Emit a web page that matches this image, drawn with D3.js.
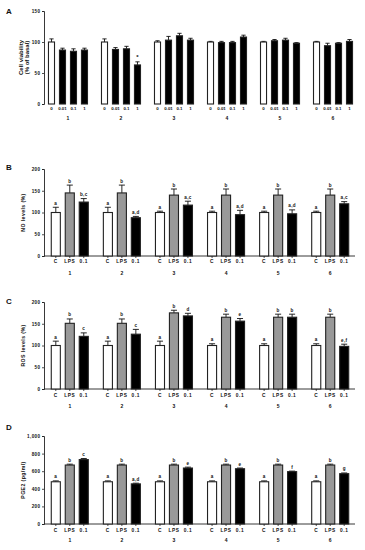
<!DOCTYPE html>
<html>
<head>
<meta charset="utf-8">
<script src="https://cdn.jsdelivr.net/npm/d3@7"></script>
<style>
  body { margin: 0; background: #fff; }
  text { font-family: "Liberation Sans", Arial, sans-serif; font-weight: bold; fill: #111; }
</style>
</head>
<body>
<svg id="chart" width="365" height="550"></svg>
<script>
// groups shared by all panels
const groups = ["1", "2", "3", "4", "5", "6"];

// panel A: cell viability
const doseCats = ["0", "0.01", "0.1", "1"];
const viabMean = [[100, 87, 85, 87], [100, 88, 89, 63], [100, 103, 110, 103], [100, 99, 99, 108], [100, 102, 103, 98], [100, 94, 98, 101]];
const viabErr = [[5, 3, 4, 3], [5, 3, 4, 5], [2, 6, 4, 3], [1, 2, 2, 3], [1, 2, 3, 1], [1, 4, 1, 3]];
const viabMarks = [["", "", "", ""], ["", "", "", "*"], ["", "", "", ""], ["", "", "", ""], ["", "", "", ""], ["", "", "", ""]];

// panels B-D
const treatCats = ["C", "LPS", "0.1"];
const noMean = [[100, 145, 124], [100, 145, 88], [100, 140, 117], [100, 140, 95], [100, 140, 97], [100, 140, 120]];
const noErr = [[12, 18, 8], [12, 18, 3], [3, 14, 9], [3, 14, 10], [3, 14, 9], [3, 14, 5]];
const noMarks = [["a", "b", "b,c"], ["a", "b", "a,d"], ["a", "b", "a,c"], ["a", "b", "a,d"], ["a", "b", "a,d"], ["a", "b", "a,c"]];

const rosMean = [[100, 151, 121], [100, 151, 126], [100, 175, 168], [100, 165, 156], [100, 165, 165], [100, 165, 98]];
const rosErr = [[10, 10, 8], [10, 10, 11], [10, 6, 6], [4, 7, 6], [4, 7, 7], [4, 7, 5]];
const rosMarks = [["a", "b", "c"], ["a", "b", "c"], ["a", "b", "d"], ["a", "b", "e"], ["a", "b", "b"], ["a", "b", "e,f"]];

const pgeMean = [[480, 670, 732], [480, 670, 456], [480, 670, 636], [480, 670, 628], [480, 670, 595], [480, 670, 572]];
const pgeErr = [[10, 10, 12], [10, 10, 8], [10, 10, 10], [10, 10, 8], [10, 10, 6], [10, 10, 8]];
const pgeMarks = [["a", "b", "c"], ["a", "b", "a,d"], ["a", "b", "e"], ["a", "b", "e"], ["a", "b", "f"], ["a", "b", "g"]];

const svg = d3.select("#chart");

const panels = [
  { tag: "A", tagY: 14, cats: doseCats, mean: viabMean, err: viabErr, marks: viabMarks,
    fills: ["#fff", "#000", "#000", "#000"], max: 150, step: 50, top: 11, bottom: 104,
    title: ["Cell viability", "(% of basal)"], catY: 110, groupY: 120, xLine: false,
    range: [44, 357], pad: 0.245, outer: 0.075, innerPad: 0.36 },
  { tag: "B", tagY: 170, cats: treatCats, mean: noMean, err: noErr, marks: noMarks,
    fills: ["#fff", "#999", "#000"], max: 200, step: 50, top: 169, bottom: 256,
    title: ["NO levels (%)"], catY: 263, groupY: 275, xLine: true,
    range: [44, 356], pad: 0.27, outer: 0.13, innerPad: 0.28 },
  { tag: "C", tagY: 304, cats: treatCats, mean: rosMean, err: rosErr, marks: rosMarks,
    fills: ["#fff", "#999", "#000"], max: 200, step: 50, top: 302, bottom: 389,
    title: ["ROS levels (%)"], catY: 397, groupY: 408, xLine: true,
    range: [44, 356], pad: 0.27, outer: 0.13, innerPad: 0.28 },
  { tag: "D", tagY: 430, cats: treatCats, mean: pgeMean, err: pgeErr, marks: pgeMarks,
    fills: ["#fff", "#999", "#000"], max: 1000, step: 200, top: 436, bottom: 524,
    title: ["PGE2 (pg/ml)"], catY: 532, groupY: 542, xLine: true,
    range: [44, 356], pad: 0.27, outer: 0.13, innerPad: 0.28 }
];

panels.forEach(p => {
  const g = svg.append("g");

  const x0 = d3.scaleBand().domain(groups).range(p.range)
    .paddingInner(p.pad).paddingOuter(p.outer);
  const x1 = d3.scaleBand().domain(p.cats).range([0, x0.bandwidth()])
    .paddingInner(p.innerPad).paddingOuter(0);
  const y = d3.scaleLinear().domain([0, p.max]).range([p.bottom, p.top]);

  g.append("text").text(p.tag)
    .attr("x", 6).attr("y", p.tagY)
    .style("font-size", "8px");

  // y axis
  const yAxis = d3.axisLeft(y)
    .tickValues(d3.range(0, p.max + 1, p.step))
    .tickSize(2).tickPadding(1.5);
  const ya = g.append("g")
    .attr("transform", `translate(${p.range[0]},0)`)
    .call(yAxis);
  ya.select(".domain").attr("stroke", "#222").attr("stroke-width", 0.9);
  ya.selectAll(".tick line").attr("stroke", "#222").attr("stroke-width", 0.8);
  ya.selectAll(".tick text")
    .style("font-size", "4.6px").style("font-family", "Liberation Sans, Arial")
    .style("font-weight", "bold").style("letter-spacing", "0.4px").attr("fill", "#222");

  // y title
  const mid = (p.top + p.bottom) / 2;
  p.title.forEach((t, i) => {
    const tx = p.title.length > 1 ? 23 + i * 5.5 : 25;
    g.append("text").text(t)
      .attr("transform", `translate(${tx},${mid}) rotate(-90)`)
      .attr("text-anchor", "middle")
      .style("font-size", p.title.length > 1 ? "6px" : "5.2px")
      .style("letter-spacing", p.title.length > 1 ? "0px" : "0.4px");
  });

  // x axis line + ticks at each bar
  if (p.xLine) {
    g.append("line")
      .attr("x1", p.range[0]).attr("x2", p.range[1] - 1)
      .attr("y1", p.bottom).attr("y2", p.bottom)
      .attr("stroke", "#222").attr("stroke-width", 0.9);
  }

  groups.forEach((grp, gi) => {
    const gx = x0(grp);
    p.cats.forEach((c, ci) => {
      const bx = gx + x1(c);
      const bw = x1.bandwidth();
      const v = p.mean[gi][ci];
      const e = p.err[gi][ci];
      const cx = bx + bw / 2;

      // error bar (upper only)
      g.append("line")
        .attr("x1", cx).attr("x2", cx)
        .attr("y1", y(v)).attr("y2", y(v + e))
        .attr("stroke", "#111").attr("stroke-width", 0.9);
      g.append("line")
        .attr("x1", cx - bw * 0.3).attr("x2", cx + bw * 0.3)
        .attr("y1", y(v + e)).attr("y2", y(v + e))
        .attr("stroke", "#111").attr("stroke-width", 0.9);

      g.append("rect")
        .attr("x", bx + 0.5).attr("y", y(v))
        .attr("width", bw - 1).attr("height", y(0) - y(v))
        .attr("fill", p.fills[ci])
        .attr("stroke", "#222").attr("stroke-width", 1.1);

      if (p.marks[gi][ci]) {
        g.append("text").text(p.marks[gi][ci])
          .attr("x", cx).attr("y", y(v + e) - 2.5)
          .attr("text-anchor", "middle")
          .style("font-size", p.tag === "A" ? "6px" : "4.6px")
          .style("letter-spacing", "0.3px");
      }

      if (p.xLine) {
        g.append("line")
          .attr("x1", cx).attr("x2", cx)
          .attr("y1", p.bottom).attr("y2", p.bottom + 2)
          .attr("stroke", "#222").attr("stroke-width", 0.8);
      }

      g.append("text").text(c)
        .attr("x", cx).attr("y", p.catY)
        .attr("text-anchor", "middle")
        .style("font-size", p.tag === "A" ? "4.4px" : "4.8px")
        .style("letter-spacing", p.tag === "A" ? "0px" : "0.6px");
    });

    g.append("text").text(grp)
      .attr("x", gx + x0.bandwidth() / 2).attr("y", p.groupY)
      .attr("text-anchor", "middle")
      .style("font-size", "5px");
  });
});
</script>
</body>
</html>
